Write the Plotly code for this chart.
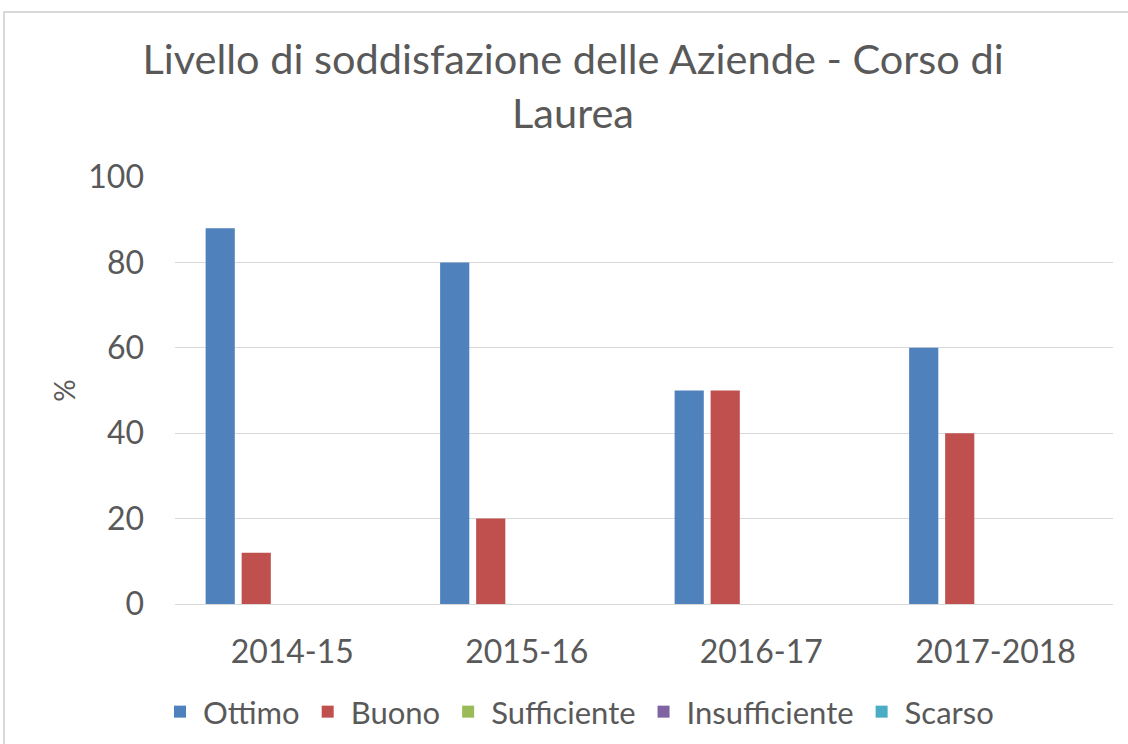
import plotly.graph_objects as go

categories = ["2014-15", "2015-16", "2016-17", "2017-2018"]
series_names = ["Ottimo", "Buono", "Sufficiente", "Insufficiente", "Scarso"]
ottimo = [88, 80, 50, 60]
buono = [12, 20, 50, 40]
sufficiente = [0, 0, 0, 0]
insufficiente = [0, 0, 0, 0]
scarso = [0, 0, 0, 0]
y_ticks = [0, 20, 40, 60, 80, 100]

colors = ["#4F81BD", "#C0504D", "#9BBB59", "#8064A2", "#4BACC6"]
values = [ottimo, buono, sufficiente, insufficiente, scarso]

FONT = "Lato, 'Open Sans', sans-serif"
GREY = "#595959"

fig = go.Figure()
for name, vals, col in zip(series_names, values, colors):
    fig.add_trace(go.Bar(x=categories, y=vals, name=name, marker_color=col,
                         marker_line_width=0))

W, H = 1128, 744
L, R, T, B = 175, 15, 177, 140
pw, ph = W - L - R, H - T - B

def px_to_paper_x(px):
    return (px - L) / pw

def px_to_paper_y(py):
    return (H - B - py) / ph

fig.update_layout(
    width=W, height=H,
    margin=dict(l=L, r=R, t=T, b=B),
    paper_bgcolor="white", plot_bgcolor="white",
    font=dict(family=FONT, color=GREY),
    title=dict(text="Livello di soddisfazione delle Aziende - Corso di<br>Laurea",
               x=573 / W, xref="container", xanchor="center",
               y=1 - 74 / H, yref="container", yanchor="top",
               font=dict(size=41.5, color=GREY, family=FONT)),
    barmode="group", bargap=0.232, bargroupgap=0.19,
    legend=dict(orientation="h", x=578 / W, xref="container", xanchor="center",
                y=1 - 712 / H, yref="container", yanchor="middle",
                font=dict(size=31, color=GREY), itemwidth=36,
                traceorder="normal"),
    xaxis=dict(showgrid=False, showline=False, ticks="",
               tickfont=dict(size=32, color=GREY), ticklabelstandoff=26),
    yaxis=dict(range=[0, 100], tickvals=y_ticks, showgrid=True,
               gridcolor="#d9d9d9", gridwidth=1, zeroline=True,
               zerolinecolor="#d9d9d9", zerolinewidth=1, showline=False,
               tickfont=dict(size=32, color=GREY), ticklabelstandoff=30,
               title=dict(text="%", font=dict(size=28, color=GREY), standoff=4)),
    shapes=[dict(type="rect", xref="paper", yref="paper",
                 x0=px_to_paper_x(4), x1=px_to_paper_x(1160),
                 y0=px_to_paper_y(770), y1=px_to_paper_y(12),
                 line=dict(color="#d9d9d9", width=2), fillcolor="rgba(0,0,0,0)",
                 layer="below")],
)

fig.write_html("out.html", config={"displayModeBar": False},
               post_script="document.body.style.margin='0';document.body.style.overflow='hidden';")
